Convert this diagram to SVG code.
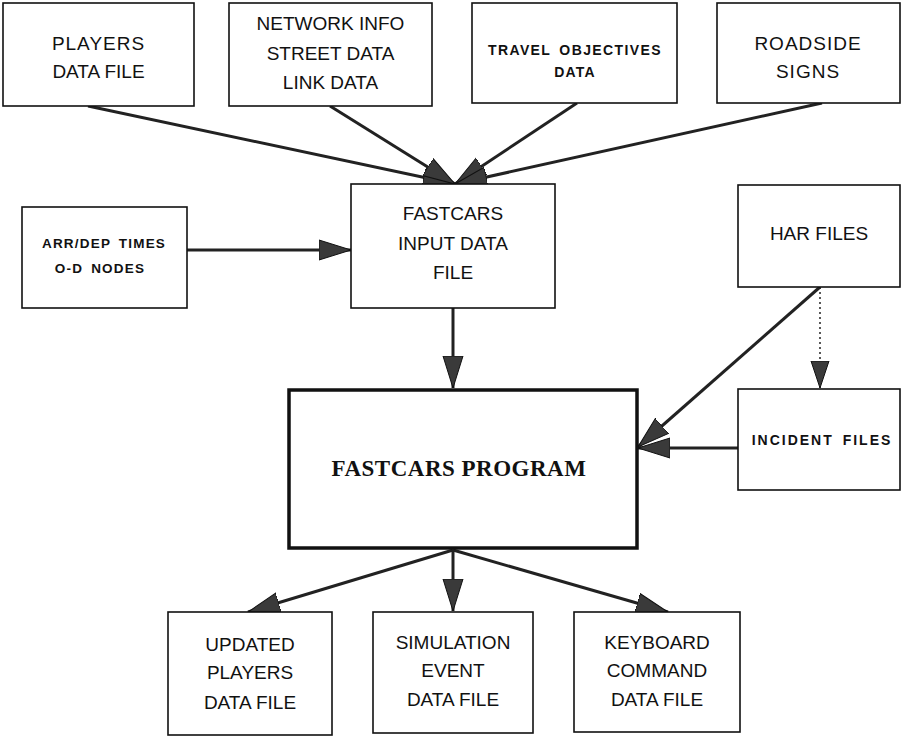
<svg xmlns="http://www.w3.org/2000/svg" width="902" height="738" viewBox="0 0 902 738">
<style>
.box{fill:#fff;stroke:#111;stroke-width:1.6}
.big{fill:#fff;stroke:#111;stroke-width:3.5}
.t{font-family:"Liberation Sans",Arial,sans-serif;font-size:19px;fill:#111;text-anchor:middle}
.s{font-family:"Liberation Sans",Arial,sans-serif;font-size:13.5px;font-weight:bold;letter-spacing:1.2px;word-spacing:3px;fill:#111;text-anchor:middle}
.p{font-family:"Liberation Serif","Times New Roman",serif;font-size:23px;font-weight:bold;letter-spacing:0.5px;fill:#111;text-anchor:middle}
.c{fill:none;stroke:#222;stroke-width:3}
.d{fill:none;stroke:#222;stroke-width:1.5;stroke-dasharray:2 3}
</style>
<defs>
<marker id="ah" markerUnits="userSpaceOnUse" markerWidth="34" markerHeight="22" refX="32" refY="11" orient="auto" viewBox="0 0 34 22">
<path d="M0,1 L32,11 L0,21 z" fill="#3a3a3a" stroke="#111" stroke-width="1"/>
</marker>
<marker id="ahs" markerUnits="userSpaceOnUse" markerWidth="28" markerHeight="20" refX="27" refY="10" orient="auto" viewBox="0 0 28 20">
<path d="M0,1 L27,10 L0,19 z" fill="#3a3a3a" stroke="#111" stroke-width="1"/>
</marker>
</defs>
<g id="connectors">
<line class="c" x1="88" y1="106" x2="455" y2="184" marker-end="url(#ah)"/>
<line class="c" x1="330" y1="106" x2="455" y2="184" marker-end="url(#ah)"/>
<line class="c" x1="577" y1="103" x2="455" y2="184" marker-end="url(#ah)"/>
<line class="c" x1="822" y1="103" x2="455" y2="184" marker-end="url(#ah)"/>
<line class="c" x1="187" y1="250" x2="351" y2="250" marker-end="url(#ah)"/>
<line class="c" x1="453" y1="308" x2="453" y2="388" marker-end="url(#ah)"/>
<line class="c" x1="820" y1="287" x2="638" y2="447" marker-end="url(#ah)"/>
<line class="c" x1="738" y1="448" x2="638" y2="448" marker-end="url(#ah)"/>
<line class="d" x1="820" y1="287" x2="820" y2="388" marker-end="url(#ahs)"/>
<line class="c" x1="453" y1="550" x2="248" y2="612" marker-end="url(#ah)"/>
<line class="c" x1="453" y1="550" x2="453" y2="611" marker-end="url(#ah)"/>
<line class="c" x1="453" y1="550" x2="668" y2="612" marker-end="url(#ah)"/>
</g>
<g id="players">
<rect class="box" x="3" y="3" width="191" height="103"/>
<text class="t" x="98.5" y="50" style="letter-spacing:1px">PLAYERS</text>
<text class="t" x="98.5" y="78">DATA FILE</text>
</g>
<g id="network">
<rect class="box" x="229" y="3" width="203" height="103"/>
<text class="t" x="330.5" y="30">NETWORK INFO</text>
<text class="t" x="330.5" y="60">STREET DATA</text>
<text class="t" x="330.5" y="89">LINK DATA</text>
</g>
<g id="travel">
<rect class="box" x="472" y="3" width="205" height="100"/>
<text class="s" x="575" y="55" style="font-size:14px;letter-spacing:1.4px">TRAVEL OBJECTIVES</text>
<text class="s" x="575" y="77" style="font-size:14px">DATA</text>
</g>
<g id="roadside">
<rect class="box" x="717" y="3" width="183" height="100"/>
<text class="t" x="808" y="50" style="letter-spacing:1px">ROADSIDE</text>
<text class="t" x="808" y="78" style="letter-spacing:1px">SIGNS</text>
</g>
<g id="arrdep">
<rect class="box" x="22" y="207" width="165" height="101"/>
<text class="s" x="104" y="248">ARR/DEP TIMES</text>
<text class="s" x="100" y="273">O-D NODES</text>
</g>
<g id="input">
<rect class="box" x="351" y="184" width="204" height="124"/>
<text class="t" x="453" y="220">FASTCARS</text>
<text class="t" x="453" y="250">INPUT DATA</text>
<text class="t" x="453" y="279">FILE</text>
</g>
<g id="har">
<rect class="box" x="738" y="185" width="162" height="102"/>
<text class="t" x="819" y="240">HAR FILES</text>
</g>
<g id="incident">
<rect class="box" x="738" y="389" width="162" height="101"/>
<text class="s" x="822" y="445" style="font-size:14px;letter-spacing:2px">INCIDENT FILES</text>
</g>
<g id="program">
<rect class="big" x="289" y="390" width="348" height="158"/>
<text class="p" x="459" y="476">FASTCARS PROGRAM</text>
</g>
<g id="updated">
<rect class="box" x="168" y="612" width="164" height="123"/>
<text class="t" x="250" y="651">UPDATED</text>
<text class="t" x="250" y="679">PLAYERS</text>
<text class="t" x="250" y="709">DATA FILE</text>
</g>
<g id="simulation">
<rect class="box" x="373" y="612" width="160" height="121"/>
<text class="t" x="453" y="649">SIMULATION</text>
<text class="t" x="453" y="677">EVENT</text>
<text class="t" x="453" y="706">DATA FILE</text>
</g>
<g id="keyboard">
<rect class="box" x="574" y="612" width="166" height="120"/>
<text class="t" x="657" y="649">KEYBOARD</text>
<text class="t" x="657" y="677">COMMAND</text>
<text class="t" x="657" y="706">DATA FILE</text>
</g>
</svg>
